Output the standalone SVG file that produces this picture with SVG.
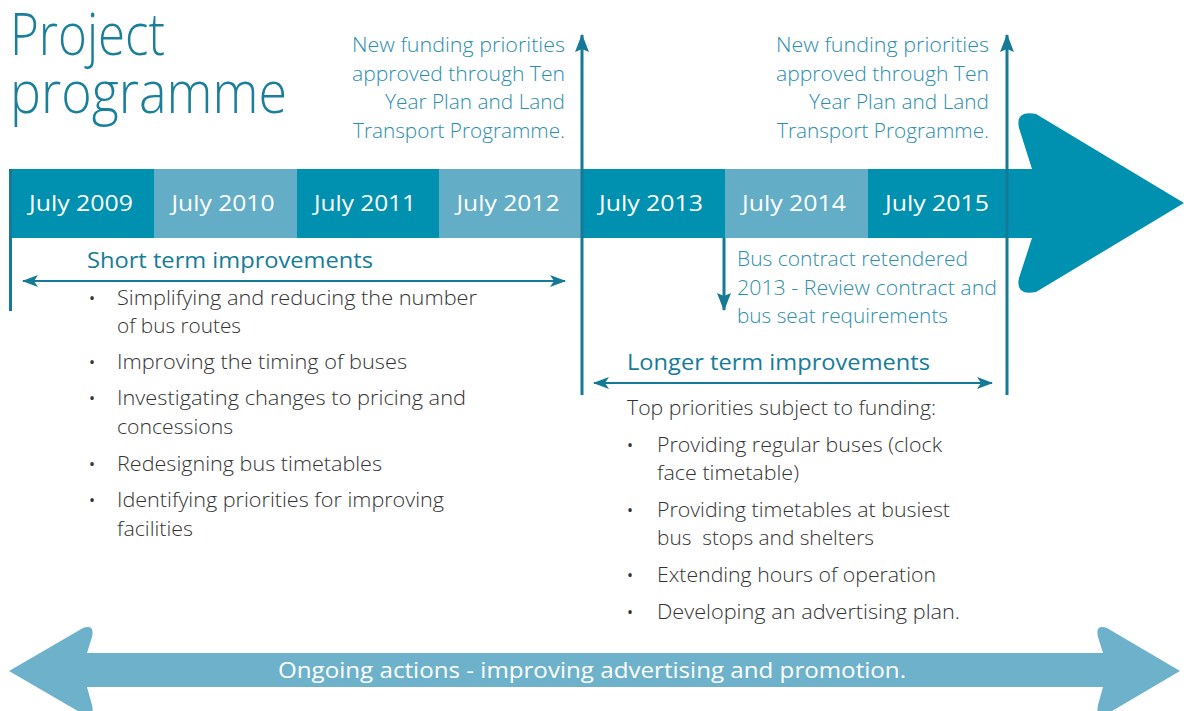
<svg xmlns="http://www.w3.org/2000/svg" width="1184" height="711" viewBox="0 0 1184 711">
  <style>
    text { font-family: "Open Sans", "Noto Sans", "Liberation Sans", sans-serif; }
    .title { font-size: 58px; font-weight: 300; fill: #1a7f9a; }
    .note { font-size: 20px; font-weight: 300; fill: #2b8eaa; }
    .year { font-size: 22px; fill: #ffffff; text-anchor: middle; }
    .head { font-size: 22px; fill: #157c98; }
    .body { font-size: 19.5px; font-weight: 300; fill: #333333; }
    .dot { font-size: 16px; fill: #333333; }
    .band { font-size: 22px; fill: #ffffff; text-anchor: middle; }
    .dark { fill: #0090b0; }
    .light { fill: #63aec6; }
    .rule { stroke: #147a96; stroke-width: 3; fill: none; }
    .span { stroke: #147a96; stroke-width: 2; fill: none; }
  </style>
  <defs>
    <!-- arrowheads drawn pointing along +x; orient rotates them onto the line -->
    <marker id="headRule" viewBox="0 0 18 14" refX="17" refY="7" markerWidth="18" markerHeight="14" markerUnits="userSpaceOnUse" orient="auto-start-reverse">
      <path d="M18,7 L0,0 L3,7 L0,14 Z" fill="#147a96"/>
    </marker>
    <marker id="headSpan" viewBox="0 0 16 12" refX="15" refY="6" markerWidth="16" markerHeight="12" markerUnits="userSpaceOnUse" orient="auto-start-reverse">
      <path d="M16,6 L0,0 L4,6 L0,12 Z" fill="#147a96"/>
    </marker>
  </defs>

  <!-- heading -->
  <g id="title">
    <text class="title" x="10" y="55" textLength="155" lengthAdjust="spacingAndGlyphs">Project</text>
    <text class="title" x="10" y="113" textLength="277" lengthAdjust="spacingAndGlyphs">programme</text>
  </g>

  <!-- timeline bar with arrowhead -->
  <g id="timeline">
    <rect class="dark" x="10" y="169" width="144" height="69"/>
    <rect class="light" x="154" y="169" width="143" height="69"/>
    <rect class="dark" x="297" y="169" width="142" height="69"/>
    <rect class="light" x="439" y="169" width="143" height="69"/>
    <rect class="dark" x="582" y="169" width="143" height="69"/>
    <rect class="light" x="725" y="169" width="143" height="69"/>
    <rect class="dark" x="868" y="169" width="166" height="69"/>
    <path class="dark" d="M1032,169 L1019,128 Q1015,110 1036,114 L1184,203 L1036,292 Q1015,296 1019,278 L1032,238 Z"/>
    <text class="year" x="81" y="211" textLength="104" lengthAdjust="spacingAndGlyphs">July 2009</text>
    <text class="year" x="223" y="211" textLength="103" lengthAdjust="spacingAndGlyphs">July 2010</text>
    <text class="year" x="365" y="211" textLength="102" lengthAdjust="spacingAndGlyphs">July 2011</text>
    <text class="year" x="508" y="211" textLength="103" lengthAdjust="spacingAndGlyphs">July 2012</text>
    <text class="year" x="651" y="211" textLength="104" lengthAdjust="spacingAndGlyphs">July 2013</text>
    <text class="year" x="794" y="211" textLength="104" lengthAdjust="spacingAndGlyphs">July 2014</text>
    <text class="year" x="937" y="211" textLength="104" lengthAdjust="spacingAndGlyphs">July 2015</text>
  </g>

  <!-- connectors: milestone rules and span arrows -->
  <g id="connectors">
    <line class="rule" x1="10.5" y1="169" x2="10.5" y2="311"/>
    <line class="rule" x1="582" y1="395" x2="582" y2="35" marker-end="url(#headRule)"/>
    <line class="rule" x1="1007" y1="395" x2="1007" y2="35" marker-end="url(#headRule)"/>
    <line class="rule" x1="724" y1="238" x2="724" y2="310" marker-end="url(#headRule)"/>
    <line class="span" x1="23" y1="281" x2="565" y2="281" marker-start="url(#headSpan)" marker-end="url(#headSpan)"/>
    <line class="span" x1="594" y1="383" x2="992" y2="383" marker-start="url(#headSpan)" marker-end="url(#headSpan)"/>
  </g>

  <!-- funding notes -->
  <g id="funding-2013">
    <text class="note" x="565" y="52" text-anchor="end" textLength="213" lengthAdjust="spacingAndGlyphs">New funding priorities</text>
    <text class="note" x="565" y="81" text-anchor="end" textLength="213" lengthAdjust="spacingAndGlyphs">approved through Ten</text>
    <text class="note" x="565" y="109" text-anchor="end" textLength="180" lengthAdjust="spacingAndGlyphs">Year Plan and Land</text>
    <text class="note" x="565" y="138" text-anchor="end" textLength="212" lengthAdjust="spacingAndGlyphs">Transport Programme.</text>
  </g>
  <g id="funding-2015">
    <text class="note" x="989" y="52" text-anchor="end" textLength="213" lengthAdjust="spacingAndGlyphs">New funding priorities</text>
    <text class="note" x="989" y="81" text-anchor="end" textLength="213" lengthAdjust="spacingAndGlyphs">approved through Ten</text>
    <text class="note" x="989" y="109" text-anchor="end" textLength="180" lengthAdjust="spacingAndGlyphs">Year Plan and Land</text>
    <text class="note" x="989" y="138" text-anchor="end" textLength="212" lengthAdjust="spacingAndGlyphs">Transport Programme.</text>
  </g>

  <!-- bus contract note -->
  <g id="bus-contract">
    <text class="note" x="737" y="266" textLength="231" lengthAdjust="spacingAndGlyphs">Bus contract retendered</text>
    <text class="note" x="737" y="295" textLength="260" lengthAdjust="spacingAndGlyphs">2013 - Review contract and</text>
    <text class="note" x="737" y="323" textLength="211" lengthAdjust="spacingAndGlyphs">bus seat requirements</text>
  </g>

  <!-- short term list -->
  <g id="short-term">
    <text class="head" x="87" y="268" textLength="286" lengthAdjust="spacingAndGlyphs">Short term improvements</text>
    <text class="dot" x="89" y="304">•</text>
    <text class="body" x="117" y="305" textLength="360" lengthAdjust="spacingAndGlyphs">Simplifying and reducing the number</text>
    <text class="body" x="117" y="333" textLength="124" lengthAdjust="spacingAndGlyphs">of bus routes</text>
    <text class="dot" x="89" y="368">•</text>
    <text class="body" x="117" y="369" textLength="290" lengthAdjust="spacingAndGlyphs">Improving the timing of buses</text>
    <text class="dot" x="89" y="404">•</text>
    <text class="body" x="117" y="405" textLength="349" lengthAdjust="spacingAndGlyphs">Investigating changes to pricing and</text>
    <text class="body" x="117" y="434" textLength="116" lengthAdjust="spacingAndGlyphs">concessions</text>
    <text class="dot" x="89" y="470">•</text>
    <text class="body" x="117" y="471" textLength="265" lengthAdjust="spacingAndGlyphs">Redesigning bus timetables</text>
    <text class="dot" x="89" y="506">•</text>
    <text class="body" x="117" y="507" textLength="327" lengthAdjust="spacingAndGlyphs">Identifying priorities for improving</text>
    <text class="body" x="117" y="536" textLength="76" lengthAdjust="spacingAndGlyphs">facilities</text>
  </g>

  <!-- longer term list -->
  <g id="longer-term">
    <text class="head" x="627" y="370" textLength="303" lengthAdjust="spacingAndGlyphs">Longer term improvements</text>
    <text class="body" x="627" y="415" textLength="309" lengthAdjust="spacingAndGlyphs">Top priorities subject to funding:</text>
    <text class="dot" x="627" y="451">•</text>
    <text class="body" x="657" y="452" textLength="285" lengthAdjust="spacingAndGlyphs">Providing regular buses (clock</text>
    <text class="body" x="657" y="480" textLength="142" lengthAdjust="spacingAndGlyphs">face timetable)</text>
    <text class="dot" x="627" y="516">•</text>
    <text class="body" x="657" y="517" textLength="293" lengthAdjust="spacingAndGlyphs">Providing timetables at busiest</text>
    <text class="body" x="657" y="545" textLength="217" lengthAdjust="spacingAndGlyphs" xml:space="preserve">bus  stops and shelters</text>
    <text class="dot" x="627" y="581">•</text>
    <text class="body" x="657" y="582" textLength="279" lengthAdjust="spacingAndGlyphs">Extending hours of operation</text>
    <text class="dot" x="627" y="618">•</text>
    <text class="body" x="657" y="619" textLength="303" lengthAdjust="spacingAndGlyphs">Developing an advertising plan.</text>
  </g>

  <!-- ongoing actions band -->
  <g id="ongoing">
    <path fill="#6db2ca" d="M87,653 L92,637 Q95,624 83,628 L9,671 L83,714 Q95,718 92,705 L87,687 L1103,687 L1098,705 Q1095,718 1107,714 L1180,671 L1107,628 Q1095,624 1098,637 L1103,653 Z"/>
    <text class="band" x="592" y="678" textLength="628" lengthAdjust="spacingAndGlyphs">Ongoing actions - improving advertising and promotion.</text>
  </g>
</svg>
